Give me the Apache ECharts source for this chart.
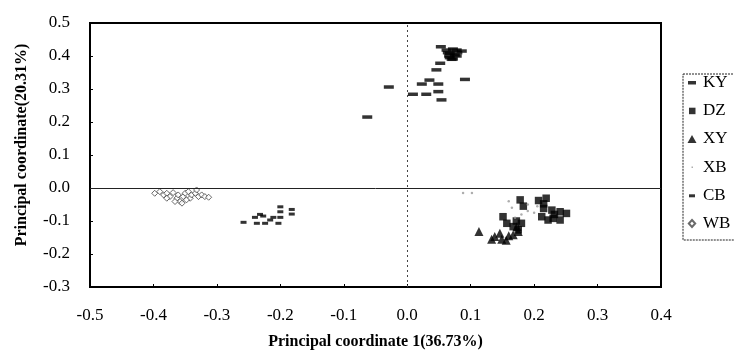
<!DOCTYPE html>
<html>
<head>
<meta charset="utf-8">
<script src="https://cdn.jsdelivr.net/npm/echarts@6/dist/echarts.min.js"></script>
<style>html,body{margin:0;padding:0;background:#fff;}#c{width:734px;height:358px;}</style>
</head>
<body>
<div id="c"></div>
<script>
const seriesNames = ['KY', 'DZ', 'XY', 'XB', 'CB', 'WB'];
const xTicks = { min: -0.5, max: 0.4, step: 0.1 };
const yTicks = { min: -0.3, max: 0.5, step: 0.1 };
const xTitle = 'Principal coordinate 1(36.73%)';
const yTitle = 'Principal coordinate(20.31%)';

const kyPoints = [
  [-0.063, 0.215], [-0.029, 0.306], [0.009, 0.284], [0.030, 0.284], [0.023, 0.315],
  [0.049, 0.315], [0.035, 0.327], [0.049, 0.292], [0.054, 0.267], [0.046, 0.358],
  [0.052, 0.378], [0.091, 0.329], [0.053, 0.428], [0.072, 0.421], [0.086, 0.415],
  [0.067, 0.408], [0.075, 0.403], [0.067, 0.395], [0.072, 0.391], [0.062, 0.418],
  [0.078, 0.418], [0.064, 0.410], [0.079, 0.410], [0.066, 0.400], [0.078, 0.400],
  [0.070, 0.390]
];
const dzPoints = [
  [0.178, -0.036], [0.183, -0.055], [0.207, -0.038], [0.219, -0.031], [0.215, -0.062],
  [0.228, -0.067], [0.241, -0.072], [0.251, -0.077], [0.230, -0.092], [0.222, -0.097],
  [0.241, -0.097], [0.212, -0.087], [0.180, -0.107], [0.175, -0.127], [0.167, -0.117],
  [0.151, -0.087], [0.157, -0.107], [0.215, -0.048], [0.232, -0.080], [0.172, -0.100]
];
const xyPoints = [
  [0.113, -0.132], [0.133, -0.155], [0.138, -0.147], [0.146, -0.137], [0.149, -0.155],
  [0.156, -0.158], [0.167, -0.142], [0.175, -0.132], [0.173, -0.117], [0.160, -0.145]
];
const xbPoints = [
  [0.088, -0.015], [0.102, -0.015], [0.160, -0.040], [0.165, -0.060], [0.190, -0.070],
  [0.200, -0.075], [0.180, -0.080], [0.170, -0.090], [0.190, -0.050], [0.205, -0.055]
];
const cbPoints = [
  [-0.258, -0.104], [-0.240, -0.089], [-0.232, -0.080], [-0.227, -0.085], [-0.237, -0.107],
  [-0.224, -0.107], [-0.216, -0.097], [-0.211, -0.089], [-0.200, -0.089], [-0.203, -0.107],
  [-0.200, -0.057], [-0.200, -0.072], [-0.182, -0.065], [-0.182, -0.079]
];
const wbPoints = [
  [-0.398, -0.016], [-0.390, -0.011], [-0.384, -0.021], [-0.379, -0.016], [-0.374, -0.026],
  [-0.369, -0.014], [-0.363, -0.031], [-0.361, -0.021], [-0.358, -0.041], [-0.353, -0.026],
  [-0.350, -0.016], [-0.345, -0.011], [-0.342, -0.031], [-0.340, -0.021], [-0.334, -0.016],
  [-0.332, -0.006], [-0.329, -0.026], [-0.324, -0.021], [-0.319, -0.026], [-0.313, -0.028],
  [-0.366, -0.041], [-0.355, -0.046], [-0.379, -0.031], [-0.348, -0.036]
];

const FONT = '"Liberation Serif", "Times New Roman", serif';
// legend icons: leading move-to points fix the icon box so the glyph keeps its size
const box = 'path://M0,0M12,14';
const icons = {
  KY: box + 'M2,5.5h8v3.5h-8z',
  DZ: box + 'M3,4h6.5v6.5h-6.5z',
  XY: box + 'M6,3l4.5,8h-9z',
  XB: box + 'M5.5,6.5h1.5v1.5h-1.5z',
  CB: box + 'M3,6h6v3h-6z',
  WB: box + 'M6,3.5l3.2,3.5l-3.2,3.5l-3.2,-3.5z'
};

const chart = echarts.init(document.getElementById('c'), null, { renderer: 'canvas' });
const fmt = v => (Math.abs(v) < 1e-9 ? 0 : v).toFixed(1);

chart.setOption({
  animation: false,
  backgroundColor: '#fff',
  textStyle: { fontFamily: FONT, color: '#000' },
  grid: { left: 90, right: 73, top: 23, bottom: 71, show: true, borderColor: '#000', borderWidth: 2, backgroundColor: 'transparent' },
  legend: {
    orient: 'vertical',
    left: 683,
    top: 74,
    padding: [0, 12, 8, 2],
    itemWidth: 12,
    itemHeight: 14,
    itemGap: 11.2,
    borderColor: '#222',
    borderWidth: 1,
    borderType: [2, 1],
    textStyle: { fontFamily: FONT, fontSize: 17, color: '#000', lineHeight: 14 },
    data: seriesNames.map(n => ({ name: n, icon: icons[n] }))
  },
  xAxis: {
    type: 'value',
    min: xTicks.min, max: xTicks.max, interval: xTicks.step,
    name: xTitle, nameLocation: 'middle', nameGap: 47,
    nameTextStyle: { fontFamily: FONT, fontSize: 16, fontWeight: 'bold', color: '#000' },
    axisLine: { onZero: false, lineStyle: { color: '#000', width: 2 } },
    axisTick: { show: true, inside: true, length: 3, lineStyle: { color: '#000' } },
    axisLabel: { margin: 20, fontFamily: FONT, fontSize: 17, color: '#000', formatter: fmt },
    splitLine: { show: false }
  },
  yAxis: {
    type: 'value',
    min: yTicks.min, max: yTicks.max, interval: yTicks.step,
    name: yTitle, nameLocation: 'middle', nameGap: 60,
    nameTextStyle: { fontFamily: FONT, fontSize: 16, fontWeight: 'bold', color: '#000', padding: [0, 0, 0, 20] },
    axisLine: { onZero: false, lineStyle: { color: '#000', width: 2 } },
    axisTick: { show: true, inside: true, length: 3, lineStyle: { color: '#000' } },
    axisLabel: { margin: 20, fontFamily: FONT, fontSize: 17, color: '#000', formatter: fmt },
    splitLine: { show: false }
  },
  series: [
    {
      name: 'KY', type: 'scatter', data: kyPoints, symbol: 'rect', symbolSize: [10, 3.5],
      itemStyle: { color: '#000' },
      markLine: {
        silent: true, symbol: 'none', label: { show: false }, animation: false,
        data: [
          { xAxis: 0, lineStyle: { color: '#444', width: 1, type: [2, 3] } },
          { yAxis: 0, lineStyle: { color: '#222', width: 1, type: 'solid' } }
        ]
      }
    },
    { name: 'DZ', type: 'scatter', data: dzPoints, symbol: 'rect', symbolSize: 7.5, itemStyle: { color: '#000' } },
    { name: 'XY', type: 'scatter', data: xyPoints, symbol: 'triangle', symbolSize: [9, 9], itemStyle: { color: '#000' } },
    { name: 'XB', type: 'scatter', data: xbPoints, symbol: 'circle', symbolSize: 2.5, itemStyle: { color: '#999' } },
    { name: 'CB', type: 'scatter', data: cbPoints, symbol: 'rect', symbolSize: [6, 3], itemStyle: { color: '#000' } },
    { name: 'WB', type: 'scatter', data: wbPoints, symbol: 'diamond', symbolSize: 6, itemStyle: { color: '#fff', borderColor: '#444', borderWidth: 1 } }
  ]
});
</script>
</body>
</html>
